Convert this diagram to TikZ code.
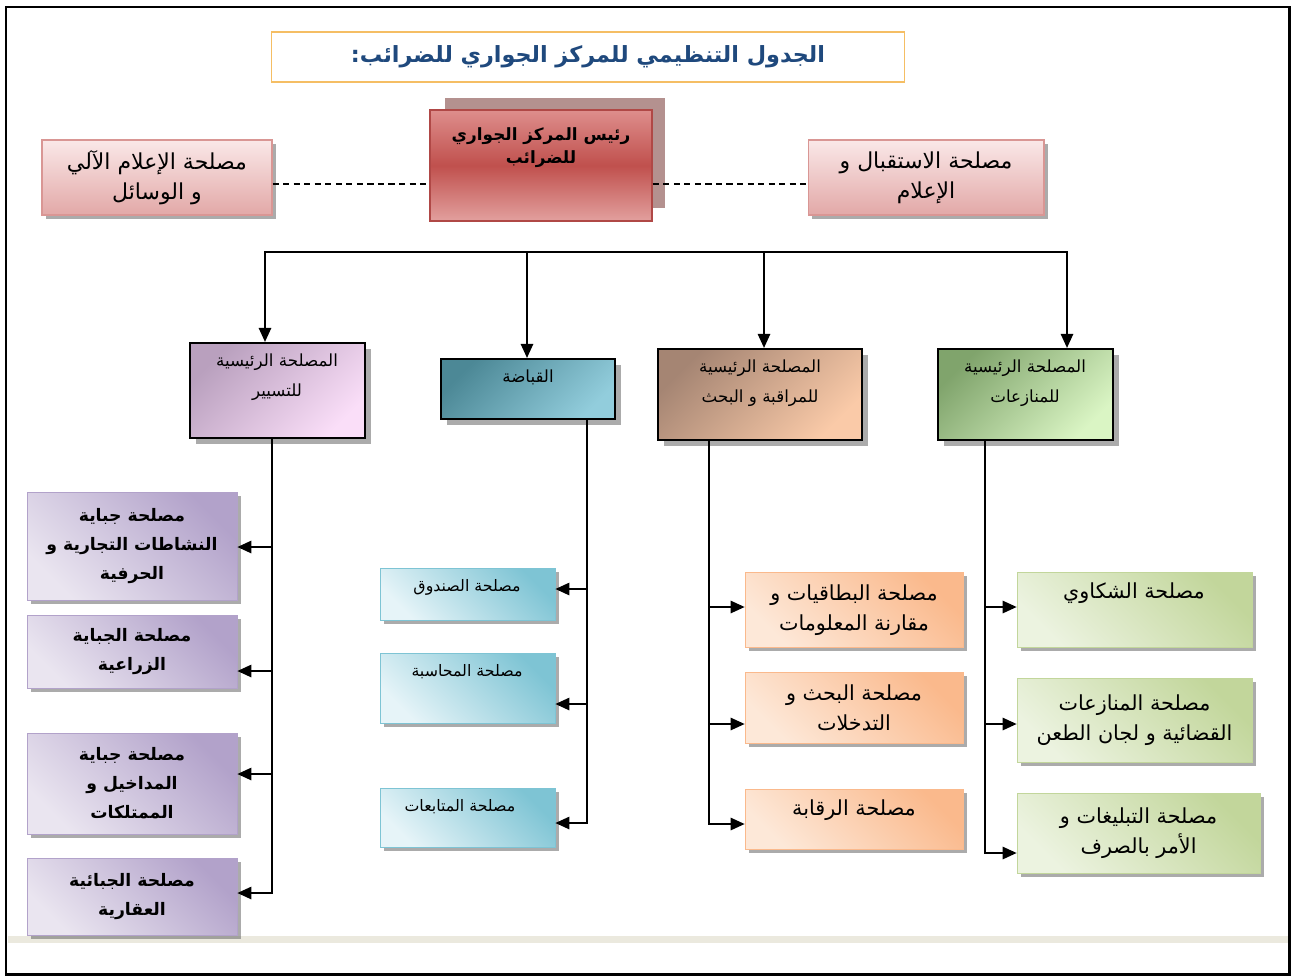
\documentclass[tikz,border=0pt]{standalone}
\usepackage{fontspec}
\usepackage{tikz, color}
\usetikzlibrary{positioning, arrows.meta, calc, shadows}
\TeXXeTstate=1
\newfontfamily\arabicfont[Script=Arabic]{DejaVu Sans}
\newcommand{\artxt}[1]{\beginR #1\endR}

\definecolor{titleline}{RGB}{245,190,100}
\definecolor{titleblue}{RGB}{31,73,125}
\definecolor{headtop}{RGB}{222,142,140}
\definecolor{headmid}{RGB}{192,80,77}
\definecolor{headbot}{RGB}{226,160,158}
\definecolor{headline}{RGB}{176,72,70}
\definecolor{headshade}{RGB}{180,145,143}
\definecolor{sidetop}{RGB}{250,232,232}
\definecolor{sidebot}{RGB}{226,168,167}
\definecolor{sideline}{RGB}{217,150,148}
\definecolor{tasdark}{RGB}{185,160,190}
\definecolor{taslite}{RGB}{250,222,248}
\definecolor{qabdark}{RGB}{76,136,150}
\definecolor{qablite}{RGB}{146,205,220}
\definecolor{murdark}{RGB}{165,133,115}
\definecolor{murlite}{RGB}{250,202,168}
\definecolor{mundark}{RGB}{128,164,108}
\definecolor{munlite}{RGB}{218,245,196}
\definecolor{purpdark}{RGB}{178,162,202}
\definecolor{purplite}{RGB}{234,229,240}
\definecolor{bluedark}{RGB}{126,196,212}
\definecolor{bluelite}{RGB}{230,244,248}
\definecolor{orgdark}{RGB}{250,185,140}
\definecolor{orglite}{RGB}{253,232,216}
\definecolor{grndark}{RGB}{194,214,155}
\definecolor{grnlite}{RGB}{236,243,224}
\definecolor{band}{RGB}{235,233,222}

\tikzset{
  orgchart/.style={
	x=0.02cm, y=-0.02cm, % one unit is one pixel of the scan, y going down
	line width=1.1pt, % connectors
	>={Triangle[length=8pt, width=7pt]}, % filled arrow heads
  },
  shadowed/.style={drop shadow={shadow xshift=#1, shadow yshift=-#1, opacity=0.55, fill=black!60}},
  titlebox/.style={draw=titleline, line width=0.9pt, fill=white, text=titleblue,
	font=\arabicfont\bfseries\fontsize{12.7}{16}\selectfont},
  headback/.style={fill=headshade},
  headbox/.style={draw=headline, line width=0.8pt, top color=headtop, bottom color=headbot, middle color=headmid},
  sidebox/.style={draw=sideline, line width=0.6pt, top color=sidetop, bottom color=sidebot, shadowed=2.5pt,
	align=center, font=\arabicfont\fontsize{12.5}{17}\selectfont},
  deptbox/.style 2 args={draw=black, line width=1.2pt, top color=#1, bottom color=#2, shading angle=45, shadowed=3.5pt},
  subbox/.style 2 args={draw=#1, line width=0.4pt, top color=#1, bottom color=#2, shading angle=-45, shadowed=2.2pt, align=center},
  headtxt/.style={font=\arabicfont\bfseries\fontsize{9.6}{13}\selectfont, align=center},
  depttxt/.style={font=\arabicfont\fontsize{9.5}{17}\selectfont, align=center},
  purptxt/.style={font=\arabicfont\bfseries\fontsize{9.8}{16.5}\selectfont},
  bluetxt/.style={font=\arabicfont\fontsize{9}{12}\selectfont, align=center},
  subtxt/.style={font=\arabicfont\fontsize{11.8}{17}\selectfont},
  dashline/.style={line width=0.7pt, dash pattern=on 3.5pt off 2.5pt},
}

\begin{document}
\begin{tikzpicture}[orgchart]
\useasboundingbox (0,0) rectangle (1293,977);
\draw[line width=1.7pt] (6,7) rectangle (1289,974);
\fill[band] (8,936) rectangle (1288,943);

% title and top row
\node[titlebox, minimum width=12.66cm, minimum height=1cm] (title) at (588,57) {\artxt{الجدول التنظيمي للمركز الجواري للضرائب:}};
\node[headback, minimum width=4.4cm, minimum height=2.2cm] (headbg) at (555,153) {};
\node[headbox, minimum width=4.44cm, minimum height=2.22cm] (head) at (541,165.5) {};
\node[headtxt] (headt) at (541,148) {\artxt{رئيس المركز الجواري}\\\artxt{للضرائب}};
\node[sidebox, minimum width=4.6cm, minimum height=1.5cm] (info) at (157,177.5) {\artxt{مصلحة الإعلام الآلي}\\\artxt{و الوسائل}};
\node[sidebox, minimum width=4.72cm, minimum height=1.5cm] (recep) at (926,177.5) {\artxt{مصلحة الاستقبال و}\\\artxt{الإعلام}};

% main departments
\node[deptbox={tasdark}{taslite}, minimum width=3.5cm, minimum height=1.9cm] (tasyir) at (277.5,390.5) {};
\node[depttxt] (tasyirt) at (277,377) {\artxt{المصلحة الرئيسية}\\\artxt{للتسيير}};
\node[deptbox={qabdark}{qablite}, minimum width=3.48cm, minimum height=1.2cm] (qabada) at (528,389) {};
\node[depttxt] (qabadat) at (528,377) {\artxt{القباضة}};
\node[deptbox={murdark}{murlite}, minimum width=4.08cm, minimum height=1.82cm] (muraqaba) at (760,394.5) {};
\node[depttxt] (muraqabat) at (760,383) {\artxt{المصلحة الرئيسية}\\\artxt{للمراقبة و البحث}};
\node[deptbox={mundark}{munlite}, minimum width=3.5cm, minimum height=1.82cm] (munazaat) at (1025.5,394.5) {};
\node[depttxt] (munazaatt) at (1025,383) {\artxt{المصلحة الرئيسية}\\\artxt{للمنازعات}};

% services under each department
\node[subbox={purpdark}{purplite}, purptxt, minimum width=4.2cm, minimum height=2.16cm] (t1) at (132,546.5) {\artxt{مصلحة جباية}\\\artxt{النشاطات التجارية و}\\\artxt{الحرفية}};
\node[subbox={purpdark}{purplite}, purptxt, minimum width=4.2cm, minimum height=1.46cm] (t2) at (132,651.5) {\artxt{مصلحة الجباية}\\\artxt{الزراعية}};
\node[subbox={purpdark}{purplite}, purptxt, minimum width=4.2cm, minimum height=2.02cm] (t3) at (132,783.5) {\artxt{مصلحة جباية}\\\artxt{المداخيل و}\\\artxt{الممتلكات}};
\node[subbox={purpdark}{purplite}, purptxt, minimum width=4.2cm, minimum height=1.54cm] (t4) at (132,896.5) {\artxt{مصلحة الجبائية}\\\artxt{العقارية}};

\node[subbox={bluedark}{bluelite}, minimum width=3.5cm, minimum height=1.04cm] (q1) at (467.5,594) {};
\node[bluetxt] (q1t) at (467,587) {\artxt{مصلحة الصندوق}};
\node[subbox={bluedark}{bluelite}, minimum width=3.5cm, minimum height=1.4cm] (q2) at (467.5,688) {};
\node[bluetxt] (q2t) at (467,672) {\artxt{مصلحة المحاسبة}};
\node[subbox={bluedark}{bluelite}, minimum width=3.5cm, minimum height=1.18cm] (q3) at (467.5,817.5) {};
\node[bluetxt] (q3t) at (460,807) {\artxt{مصلحة المتابعات}};

\node[subbox={orgdark}{orglite}, subtxt, minimum width=4.36cm, minimum height=1.5cm] (m1) at (854,610) {\artxt{مصلحة البطاقيات و}\\\artxt{مقارنة المعلومات}};
\node[subbox={orgdark}{orglite}, subtxt, minimum width=4.36cm, minimum height=1.42cm] (m2) at (854,707.5) {\artxt{مصلحة البحث و}\\\artxt{التدخلات}};
\node[subbox={orgdark}{orglite}, minimum width=4.36cm, minimum height=1.2cm] (m3) at (854,819) {};
\node[subtxt] (m3t) at (854,810) {\artxt{مصلحة الرقابة}};

\node[subbox={grndark}{grnlite}, minimum width=4.7cm, minimum height=1.5cm] (n1) at (1134.5,610) {};
\node[subtxt] (n1t) at (1134,593) {\artxt{مصلحة الشكاوي}};
\node[subbox={grndark}{grnlite}, subtxt, minimum width=4.7cm, minimum height=1.68cm] (n2) at (1134.5,720) {\artxt{مصلحة المنازعات}\\\artxt{القضائية و لجان الطعن}};
\node[subbox={grndark}{grnlite}, subtxt, minimum width=4.86cm, minimum height=1.6cm] (n3) at (1138.5,833) {\artxt{مصلحة التبليغات و}\\\artxt{الأمر بالصرف}};

% dashed links of the head
\draw[dashline] ($(info.east)+(0,6.5)$) -- ($(info.east -| head.west)+(0,6.5)$);
\draw[dashline] ($(recep.west -| head.east)+(0,6.5)$) -- ($(recep.west)+(0,6.5)$);

% bus to the departments
\coordinate (b1) at (265,252);
\coordinate (b2) at (527,252);
\coordinate (b3) at (764,252);
\coordinate (b4) at (1067,252);
\draw[->] (b2) -- (b1) -- (b1 |- tasyir.north);
\draw (b2) -- (b3);
\draw[->] (b3) -- (b4) -- (b4 |- munazaat.north);
\draw[->] (b2) -- (b2 |- qabada.north);
\draw[->] (b3) -- (b3 |- muraqaba.north);

% trunks to the services
\coordinate (ta1) at (272,547);
\coordinate (ta2) at (272,671);
\coordinate (ta3) at (272,774);
\coordinate (ta4) at (272,893);
\draw[->] (tasyir.south -| ta4) -- (ta4) -- (ta4 -| t4.east);
\draw[->] (ta1) -- (ta1 -| t1.east);
\draw[->] (ta2) -- (ta2 -| t2.east);
\draw[->] (ta3) -- (ta3 -| t3.east);

\coordinate (qa1) at (587,589);
\coordinate (qa2) at (587,704);
\coordinate (qa3) at (587,823);
\draw[->] (qabada.south -| qa3) -- (qa3) -- (qa3 -| q3.east);
\draw[->] (qa1) -- (qa1 -| q1.east);
\draw[->] (qa2) -- (qa2 -| q2.east);

\coordinate (ma1) at (709,607);
\coordinate (ma2) at (709,724);
\coordinate (ma3) at (709,824);
\draw[->] (muraqaba.south -| ma3) -- (ma3) -- (ma3 -| m3.west);
\draw[->] (ma1) -- (ma1 -| m1.west);
\draw[->] (ma2) -- (ma2 -| m2.west);

\coordinate (na1) at (985,607);
\coordinate (na2) at (985,724);
\coordinate (na3) at (985,853);
\draw[->] (munazaat.south -| na3) -- (na3) -- (na3 -| n3.west);
\draw[->] (na1) -- (na1 -| n1.west);
\draw[->] (na2) -- (na2 -| n2.west);
\end{tikzpicture}
\end{document}
